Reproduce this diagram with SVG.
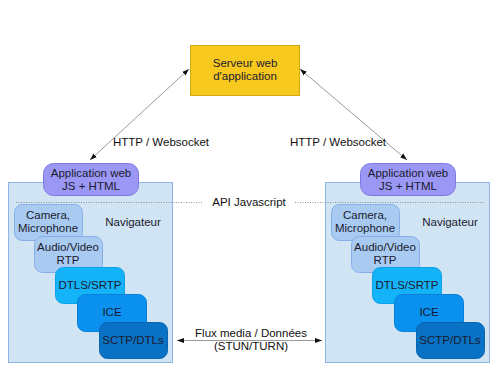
<svg xmlns="http://www.w3.org/2000/svg" width="500" height="375" viewBox="0 0 500 375">
<defs>
<style>
text{font-family:"Liberation Sans",Arial,sans-serif;font-size:11.5px;fill:#1a1a2e;text-anchor:middle}
.browser{fill:#d0e4f4;stroke:#8fb5e6;stroke-width:1}
.app{fill:#9a98f4;stroke:#7f78e2;stroke-width:1}
.cam{fill:#a9cbf1;stroke:#86aee8;stroke-width:1}
.dtls{fill:#14b3f7;stroke:#0ea0e8;stroke-width:1}
.ice{fill:#0a91ef;stroke:#0880d8;stroke-width:1}
.sctp{fill:#0a72c4;stroke:#0865b0;stroke-width:1}
.conn{stroke:#555;stroke-width:0.6;fill:none}
.dot{stroke:#777;stroke-width:0.8;stroke-dasharray:1 1.5;fill:none}
.lbl{fill:#111}
</style>
<marker id="ah" viewBox="0 0 10 10" refX="10" refY="5" markerWidth="7" markerHeight="7" orient="auto-start-reverse" markerUnits="userSpaceOnUse">
<path d="M0,1.5 L10,5 L0,8.5 z" fill="#111"/>
</marker>
</defs>
<g id="browser-left">
<rect class="browser" x="8.5" y="182.5" width="164" height="180"/>
<text x="133" y="226">Navigateur</text>
</g>
<g id="browser-right">
<rect class="browser" x="325.5" y="182.5" width="164" height="180"/>
<text x="450" y="226">Navigateur</text>
</g>
<g id="connectors">
<line class="dot" x1="16" y1="202.5" x2="203" y2="202.5"/>
<line class="dot" x1="295" y1="202.5" x2="484" y2="202.5"/>
<line class="conn" x1="90" y1="160" x2="189" y2="69" marker-start="url(#ah)" marker-end="url(#ah)"/>
<line class="conn" x1="407" y1="160" x2="300" y2="69" marker-start="url(#ah)" marker-end="url(#ah)"/>
<line class="conn" x1="177" y1="340.5" x2="322" y2="340.5" marker-start="url(#ah)" marker-end="url(#ah)"/>
<text class="lbl" x="161" y="146">HTTP / Websocket</text>
<text class="lbl" x="338" y="146">HTTP / Websocket</text>
<text class="lbl" x="249" y="206">API Javascript</text>
<text class="lbl" x="251" y="337">Flux media / Données</text>
<text class="lbl" x="251" y="349.5">(STUN/TURN)</text>
</g>
<g id="server">
<rect x="190.5" y="45.5" width="109" height="50" fill="#f7c81e" stroke="#d4a810"/>
<text x="245" y="67">Serveur web</text>
<text x="245" y="80">d'application</text>
</g>
<g id="app-left">
<rect class="app" x="43.5" y="163.5" width="95" height="32" rx="10"/>
<text x="91" y="177">Application web</text>
<text x="91" y="190">JS + HTML</text>
</g>
<g id="app-right">
<rect class="app" x="360.5" y="163.5" width="95" height="32" rx="10"/>
<text x="408" y="177">Application web</text>
<text x="408" y="190">JS + HTML</text>
</g>
<g id="camera-left">
<rect class="cam" x="14.5" y="204.5" width="68" height="36" rx="8"/>
<text x="48" y="219">Camera,</text>
<text x="48" y="232">Microphone</text>
</g>
<g id="rtp-left">
<rect class="cam" x="34.5" y="236.5" width="68" height="36" rx="8"/>
<text x="68" y="251">Audio/Video</text>
<text x="68" y="264">RTP</text>
</g>
<g id="dtls-left">
<rect class="dtls" x="55.5" y="267.5" width="69" height="36" rx="8"/>
<text x="90" y="289">DTLS/SRTP</text>
</g>
<g id="ice-left">
<rect class="ice" x="77.5" y="294.5" width="69" height="37" rx="8"/>
<text x="112" y="316">ICE</text>
</g>
<g id="sctp-left">
<rect class="sctp" x="99.5" y="322.5" width="68" height="36" rx="8"/>
<text x="133" y="344">SCTP/DTLs</text>
</g>
<g id="camera-right">
<rect class="cam" x="331.5" y="204.5" width="68" height="36" rx="8"/>
<text x="365" y="219">Camera,</text>
<text x="365" y="232">Microphone</text>
</g>
<g id="rtp-right">
<rect class="cam" x="351.5" y="236.5" width="68" height="36" rx="8"/>
<text x="385" y="251">Audio/Video</text>
<text x="385" y="264">RTP</text>
</g>
<g id="dtls-right">
<rect class="dtls" x="372.5" y="267.5" width="69" height="36" rx="8"/>
<text x="407" y="289">DTLS/SRTP</text>
</g>
<g id="ice-right">
<rect class="ice" x="394.5" y="294.5" width="69" height="37" rx="8"/>
<text x="429" y="316">ICE</text>
</g>
<g id="sctp-right">
<rect class="sctp" x="416.5" y="322.5" width="68" height="36" rx="8"/>
<text x="450" y="344">SCTP/DTLs</text>
</g>
</svg>
